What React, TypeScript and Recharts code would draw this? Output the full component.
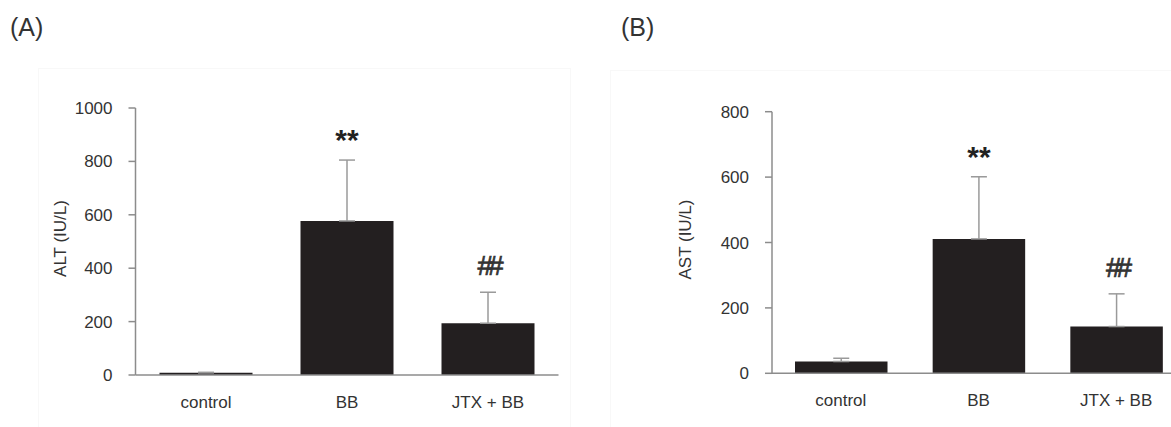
import { BarChart, Bar, XAxis, YAxis, ErrorBar, LabelList, Label } from 'recharts';

const CATEGORIES = ['control', 'BB', 'JTX + BB'];
const MARKS = ['', '**', '##'];

const ALT_MEAN = [8, 577, 194];
const ALT_ERR = [2, 228, 116];
const ALT_TICKS = [0, 200, 400, 600, 800, 1000];

const AST_MEAN = [36, 411, 143];
const AST_ERR = [10, 190, 100];
const AST_TICKS = [0, 200, 400, 600, 800];

const AXIS = '#8c8c8c';
const TEXT = '#333';
const BAR = '#231f20';
const FONT = '"Liberation Sans", Arial, sans-serif';

function buildRows(mean: number[], err: number[]) {
    return CATEGORIES.map((name, i) => ({ name, value: mean[i], err: [0, err[i]], mark: MARKS[i] }));
}

function makeMark(mean: number[], err: number[]) {
    return (props: any) => {
        const { x, y, width, height, value, index } = props;
        if (!value) return null;
        const pxPerUnit = height / mean[index];
        const errTop = y - err[index] * pxPerUnit;
        const cx = x + width / 2;
        if (value === '**') {
            return (
                <text x={cx} y={errTop - 10} textAnchor="middle" fontSize={30} fontWeight="bold" fill="#222" fontFamily={FONT}>
                    {value}
                </text>
            );
        }
        return (
            <text x={cx} y={errTop - 17} textAnchor="middle" fontSize={28} letterSpacing={-5} fill="#333" stroke="#333" strokeWidth={0.7} fontFamily={FONT}>
                {value}
            </text>
        );
    };
}

function axisTitle(text: string, cx: number) {
    return (props: any) => {
        const { viewBox } = props;
        const cy = viewBox.y + viewBox.height / 2 - 3;
        return (
            <text x={cx} y={cy} transform={`rotate(-90 ${cx} ${cy})`} textAnchor="middle" dominantBaseline="central" fontSize={17} fill={TEXT} fontFamily={FONT}>
                {text}
            </text>
        );
    };
}

interface PanelProps {
    mean: number[];
    err: number[];
    ticks: number[];
    title: string;
    titleX: number;
    width: number;
    margin: { top: number; right: number; bottom: number; left: number };
    barSize: number;
}

function Panel({ mean, err, ticks, title, titleX, width, margin, barSize }: PanelProps) {
    const rows = buildRows(mean, err);
    return (
        <BarChart width={width} height={427} data={rows} margin={margin}>
            <XAxis
                dataKey="name"
                axisLine={{ stroke: AXIS, strokeWidth: 1.5 }}
                tickLine={false}
                tickMargin={15}
                height={30}
                tick={{ fill: TEXT, fontSize: 17, fontFamily: FONT }}
            />
            <YAxis
                width={80}
                domain={[0, ticks[ticks.length - 1]]}
                ticks={ticks}
                allowDataOverflow
                axisLine={{ stroke: AXIS, strokeWidth: 1.5 }}
                tickLine={{ stroke: AXIS, strokeWidth: 1.5 }}
                tickSize={7}
                tickMargin={16}
                tick={{ fill: TEXT, fontSize: 17, fontFamily: FONT }}
            >
                <Label content={axisTitle(title, titleX)} />
            </YAxis>
            <Bar dataKey="value" fill={BAR} barSize={barSize} isAnimationActive={false}>
                <ErrorBar dataKey="err" direction="y" width={8} stroke="#9a9a9a" strokeWidth={1.5} />
                <LabelList dataKey="mark" content={makeMark(mean, err)} />
            </Bar>
        </BarChart>
    );
}

export default function App() {
    return (
        <div style={{ position: 'absolute', left: 0, top: 0, width: 1171, height: 427, overflow: 'hidden', background: '#fff', fontFamily: FONT }}>
            <div style={{ position: 'absolute', left: 38, top: 68, width: 531, height: 400, border: '1px solid #f8f8f8' }} />
            <div style={{ position: 'absolute', left: 610, top: 70, width: 600, height: 400, border: '1px solid #f8f8f8' }} />
            <div style={{ position: 'absolute', left: 10, top: 12, fontSize: 25, color: TEXT, lineHeight: '30px' }}>(A)</div>
            <div style={{ position: 'absolute', left: 621, top: 12, fontSize: 25, color: TEXT, lineHeight: '30px' }}>(B)</div>
            <div style={{ position: 'absolute', left: 0, top: 0 }}>
                <Panel
                    mean={ALT_MEAN}
                    err={ALT_ERR}
                    ticks={ALT_TICKS}
                    title="ALT (IU/L)"
                    titleX={60}
                    width={600}
                    margin={{ top: 108, right: 41.5, bottom: 22, left: 55.5 }}
                    barSize={93}
                />
            </div>
            <div style={{ position: 'absolute', left: 580, top: 0 }}>
                <Panel
                    mean={AST_MEAN}
                    err={AST_ERR}
                    ticks={AST_TICKS}
                    title="AST (IU/L)"
                    titleX={105.5}
                    width={620}
                    margin={{ top: 111.7, right: 15, bottom: 23.7, left: 112 }}
                    barSize={92.5}
                />
            </div>
        </div>
    );
}
